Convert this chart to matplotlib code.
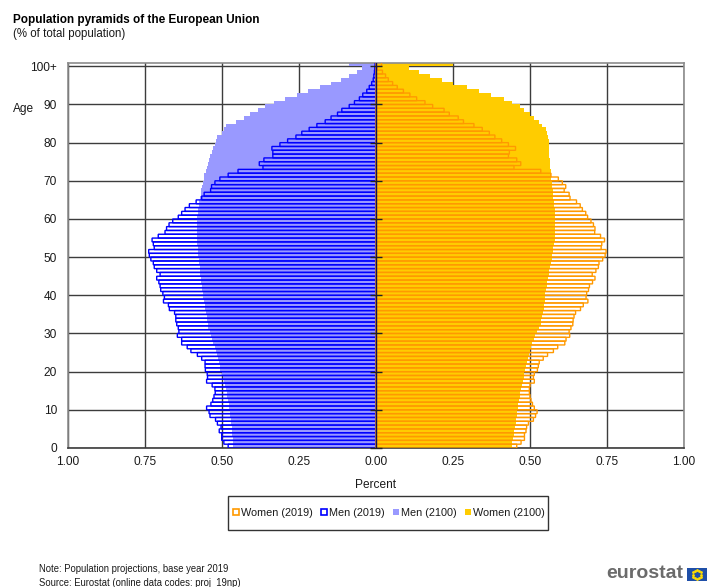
import numpy as np
import matplotlib
matplotlib.use('Agg')
from matplotlib import pyplot as plt
from matplotlib.lines import Line2D
from matplotlib.patches import Rectangle

plt.rcParams['font.family'] = ['Liberation Sans', 'DejaVu Sans']

ages = np.arange(101)
men_2019 = [.480, .494, .501, .501, .509, .503, .515, .521, .539, .542,
            .550, .536, .530, .526, .522, .523, .532, .550, .547, .548,
            .554, .555, .555, .566, .580, .601, .613, .631, .631, .645,
            .640, .642, .647, .650, .650, .654, .671, .674, .690, .687,
            .692, .699, .701, .705, .712, .701, .712, .720, .723, .731,
            .736, .738, .720, .723, .727, .707, .685, .680, .672, .660,
            .642, .631, .620, .606, .584, .566, .558, .537, .534, .523,
            .507, .480, .448, .367, .379, .364, .335, .335, .338, .312,
            .287, .260, .241, .217, .192, .165, .146, .125, .111, .087,
            .070, .054, .043, .030, .022, .014, .009, .007, .005, .004,
            .003]
women_2019 = [.457, .471, .482, .482, .487, .489, .495, .511, .518, .523,
              .514, .508, .503, .500, .498, .498, .500, .514, .511, .514,
              .524, .527, .530, .543, .557, .576, .590, .613, .617, .629,
              .627, .633, .639, .640, .643, .648, .664, .673, .688, .682,
              .684, .690, .693, .703, .711, .702, .714, .722, .724, .736,
              .744, .747, .731, .733, .742, .729, .710, .711, .706, .698,
              .687, .681, .670, .663, .651, .630, .627, .611, .616, .605,
              .592, .568, .535, .448, .470, .457, .430, .433, .453, .430,
              .408, .386, .368, .345, .318, .284, .267, .238, .221, .184,
              .159, .132, .110, .089, .069, .054, .040, .031, .021, .004,
              .018]
men_2100 = [.463, .464, .465, .466, .468, .469, .470, .472, .473, .475,
            .476, .478, .480, .483, .485, .488, .491, .494, .497, .501,
            .505, .508, .511, .514, .517, .520, .524, .528, .532, .536,
            .540, .544, .547, .549, .550, .552, .554, .556, .559, .561,
            .563, .565, .566, .568, .569, .570, .571, .573, .574, .576,
            .577, .578, .579, .580, .580, .580, .581, .581, .581, .580,
            .580, .579, .578, .576, .574, .571, .569, .567, .565, .562,
            .560, .558, .553, .550, .547, .543, .540, .534, .528, .523,
            .518, .515, .500, .495, .488, .455, .428, .410, .382, .360,
            .330, .295, .256, .220, .182, .147, .113, .089, .063, .046,
            .089]
women_2100 = [.442, .443, .445, .447, .449, .451, .453, .455, .457, .458,
              .460, .462, .464, .466, .468, .470, .473, .476, .479, .481,
              .484, .487, .490, .494, .497, .500, .504, .508, .512, .516,
              .522, .528, .535, .537, .540, .542, .544, .546, .548, .549,
              .550, .552, .554, .556, .559, .561, .563, .565, .568, .570,
              .572, .574, .576, .578, .580, .581, .581, .582, .582, .582,
              .581, .581, .580, .579, .578, .576, .575, .574, .572, .570,
              .569, .568, .567, .566, .565, .564, .563, .562, .561, .563,
              .563, .560, .556, .552, .540, .530, .513, .500, .481, .468,
              .440, .416, .372, .334, .294, .251, .213, .175, .140, .108,
              .251]

age_ticks = [0, 10, 20, 30, 40, 50, 60, 70, 80, 90, 100]
age_labels = ['0', '10', '20', '30', '40', '50', '60', '70', '80', '90', '100+']
pct_ticks = [-1, -.75, -.5, -.25, 0, .25, .5, .75, 1]
pct_labels = ['1.00', '0.75', '0.50', '0.25', '0.00', '0.25', '0.50', '0.75', '1.00']

W, H = 707, 587
PURPLE = '#9999ff'
YELLOW = '#ffcc00'
BLUE = '#0000ff'
ORANGE = '#ff9900'
TXT = '#1a1a1a'

fig = plt.figure(figsize=(W / 100, H / 100), dpi=100)
ax = fig.add_axes([68 / W, 1 - 448 / H, 616 / W, 385.5 / H])

# 2100 as solid bars, 2019 as outlines on top
y = ages + 0.5
ax.barh(y, -np.array(men_2100), height=1, color=PURPLE, lw=0, antialiased=False, zorder=2)
ax.barh(y, women_2100, height=1, color=YELLOW, lw=0, antialiased=False, zorder=2)
for b in ax.barh(y, -np.array(men_2019), height=1, fill=False, edgecolor=BLUE, lw=1, zorder=3):
    b.set_snap(False)
for b in ax.barh(y, women_2019, height=1, fill=False, edgecolor=ORANGE, lw=1, zorder=3):
    b.set_snap(False)

ax.set_xlim(-1, 1)
ax.set_ylim(0, 101)
ax.set_xticks(pct_ticks)
ax.set_xticklabels(pct_labels)
ax.set_yticks(age_ticks)
ax.set_yticklabels(age_labels)
ax.tick_params(length=0, labelsize=8.6, labelcolor=TXT)
ax.tick_params(axis='x', pad=5.5)
ax.tick_params(axis='y', pad=8)
ax.grid(True, color='#3c3c3c', lw=1)
ax.set_axisbelow(True)
for s in ax.spines.values():
    s.set_color('#8c8c8c')
    s.set_linewidth(1.2)
ax.spines['bottom'].set_color('#3c3c3c')

# centre axis with ticks crossing it
ax.axvline(0, color='#10105a', lw=1, zorder=4)
ax.plot(np.zeros(len(age_ticks)), age_ticks, ls='none', marker='_', ms=8, mew=1,
        color='#222222', zorder=5, clip_on=False)

fig.text(376 / W, 1 - 484.5 / H, 'Percent', ha='center', va='center', fontsize=8.6, color=TXT)
fig.text(13 / W, 1 - 109 / H, 'Age', ha='left', va='center', fontsize=8.6, color=TXT)
fig.text(13 / W, 1 - 20.5 / H, 'Population pyramids of the European Union', ha='left', va='center',
         fontsize=8.5, fontweight='bold', color='black')
fig.text(13 / W, 1 - 33.5 / H, '(% of total population)', ha='left', va='center', fontsize=8.3, color=TXT)
fig.text(39 / W, 1 - 569.5 / H, 'Note: Population projections, base year 2019', ha='left', va='center',
         fontsize=6.85, color=TXT)
fig.text(39 / W, 1 - 582.5 / H, 'Source: Eurostat (online data codes: proj_19np)', ha='left', va='center',
         fontsize=6.85, color=TXT)

handles = [
    Line2D([], [], ls='none', marker='s', ms=4, mfc='white', mec=ORANGE, mew=1.2),
    Line2D([], [], ls='none', marker='s', ms=4, mfc='white', mec=BLUE, mew=1.2),
    Line2D([], [], ls='none', marker='s', ms=4.5, mfc=PURPLE, mec=PURPLE, mew=0),
    Line2D([], [], ls='none', marker='s', ms=4.5, mfc=YELLOW, mec=YELLOW, mew=0),
]
labels = ['Women (2019)', 'Men (2019)', 'Men (2100)', 'Women (2100)']
# legend frame drawn by hand, the built-in one has too much side padding
fig.add_artist(Rectangle((228 / W, 1 - 530 / H), 320 / W, 34 / H, transform=fig.transFigure,
                         facecolor='white', edgecolor='#333333', lw=1))
fig.legend(handles, labels, ncol=4, loc='center', bbox_to_anchor=(388.5 / W, 1 - 513 / H),
           fontsize=7.8, frameon=False, handlelength=0.7, handletextpad=0.15, columnspacing=0.65,
           borderpad=0, borderaxespad=0, labelcolor=TXT)

# eurostat logo
fig.text(606 / W, 1 - 574 / H, 'eurostat', ha='left', va='center', fontsize=14, fontweight='bold',
         color='#6b6b6b')
flag = fig.add_axes([687 / W, 1 - 581 / H, 20 / W, 13 / H])
flag.set_facecolor('#1f4fa8')
flag.set_xlim(-1.5, 1.5)
flag.set_ylim(-1, 1)
flag.set_xticks([])
flag.set_yticks([])
for s in flag.spines.values():
    s.set_visible(False)
t = np.arange(12) * np.pi / 6
flag.plot(0.62 * np.cos(t), 0.62 * np.sin(t), ls='none', marker='o', ms=1, color='#ffdd00')

fig.savefig('out.png', dpi=100)
